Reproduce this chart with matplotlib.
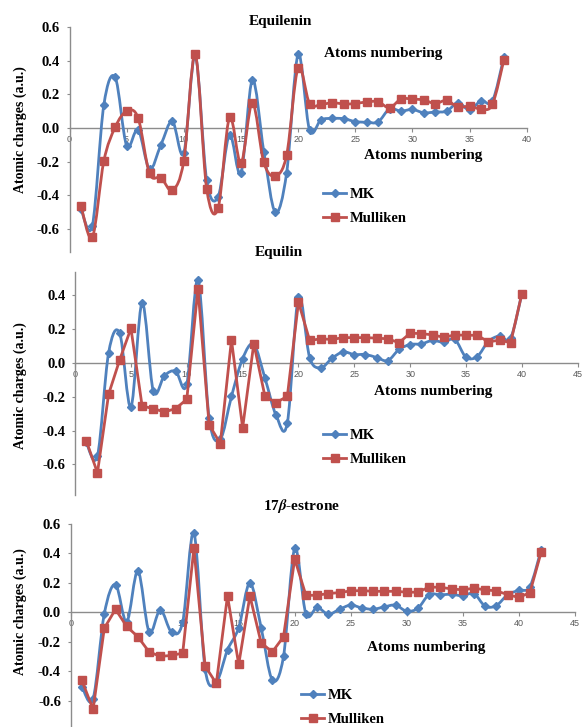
"""Atomic charges (MK vs Mulliken) for Equilenin, Equilin and 17b-estrone."""

import matplotlib
matplotlib.use("Agg")
import matplotlib.pyplot as plt
import numpy as np
from matplotlib.lines import Line2D
from matplotlib.patches import PathPatch
from matplotlib.path import Path

# Data (atom index starts at 1)
EQUILENIN_MK = [-0.48, -0.58, 0.135, 0.30, -0.105, -0.01, -0.245, -0.10, 0.04, -0.15,
                0.43, -0.31, -0.41, -0.04, -0.27, 0.285, -0.14, -0.50, -0.265, 0.437,
                -0.012, 0.048, 0.057, 0.055, 0.038, 0.034, 0.036, 0.113, 0.10, 0.11,
                0.09, 0.095, 0.10, 0.15, 0.107, 0.162, 0.16, 0.42]
EQUILENIN_MULLIKEN = [-0.463, -0.65, -0.198, 0.005, 0.10, 0.06, -0.27, -0.295, -0.37, -0.195,
                      0.437, -0.36, -0.477, 0.063, -0.21, 0.15, -0.205, -0.285, -0.16, 0.358,
                      0.145, 0.14, 0.15, 0.143, 0.145, 0.155, 0.156, 0.12, 0.172, 0.172,
                      0.166, 0.145, 0.164, 0.123, 0.13, 0.113, 0.14, 0.404]

EQUILIN_MK = [-0.47, -0.55, 0.06, 0.175, -0.26, 0.355, -0.165, -0.075, -0.048, -0.125,
              0.493, -0.325, -0.45, -0.198, 0.026, 0.11, -0.09, -0.31, -0.355, 0.39,
              0.032, -0.028, 0.028, 0.065, 0.05, 0.05, 0.032, 0.014, 0.08, 0.109,
              0.113, 0.133, 0.123, 0.139, 0.034, 0.038, 0.127, 0.16, 0.149, 0.41]
EQUILIN_MULLIKEN = [-0.46, -0.65, -0.185, 0.02, 0.205, -0.255, -0.27, -0.29, -0.27, -0.215,
                    0.44, -0.365, -0.477, 0.137, -0.384, 0.115, -0.198, -0.234, -0.198, 0.36,
                    0.133, 0.143, 0.139, 0.15, 0.15, 0.15, 0.147, 0.143, 0.12, 0.176,
                    0.174, 0.166, 0.152, 0.166, 0.164, 0.164, 0.125, 0.135, 0.12, 0.41]

ESTRONE_MK = [-0.505, -0.588, -0.011, 0.188, -0.066, 0.28, -0.134, 0.016, -0.134, -0.066,
              0.538, -0.385, -0.475, -0.256, -0.106, 0.199, -0.104, -0.46, -0.30, 0.434,
              -0.011, 0.032, -0.014, 0.02, 0.048, 0.029, 0.02, 0.036, 0.048, 0.007,
              0.027, 0.12, 0.118, 0.122, 0.111, 0.127, 0.041, 0.045, 0.118, 0.149,
              0.174, 0.423]
ESTRONE_MULLIKEN = [-0.464, -0.66, -0.109, 0.02, -0.097, -0.167, -0.27, -0.30, -0.294, -0.278,
                    0.434, -0.366, -0.484, 0.111, -0.355, 0.111, -0.208, -0.27, -0.167, 0.362,
                    0.115, 0.115, 0.127, 0.133, 0.145, 0.147, 0.142, 0.142, 0.142, 0.136,
                    0.136, 0.17, 0.17, 0.158, 0.152, 0.163, 0.152, 0.145, 0.12, 0.10,
                    0.133, 0.407]

TITLES = ["Equilenin", "Equilin", r"17$\beta$-estrone"]
XLABEL = "Atoms numbering"
YLABEL = "Atomic charges (a.u.)"
SERIES_NAMES = ["MK", "Mulliken"]

BLUE = "#4F81BD"
RED = "#C0504D"
AXIS_GREY = "#8C8C8C"

MK_MS = 4.0
MUL_MS = 5.5
LW = 2.0

W, H = 582, 727

plt.rcParams.update({
    "font.family": "Liberation Serif",
    "font.weight": "bold",
    "mathtext.fontset": "stix",
})


def px_box(left, top, right, bottom):
    return [left / W, 1 - bottom / H, (right - left) / W, (bottom - top) / H]


def smooth_path(x, y):
    # Excel-style smoothed line: cubic Bezier through each point
    pts = np.column_stack([x, y]).astype(float)
    n = len(pts)
    verts = [pts[0]]
    codes = [Path.MOVETO]
    for i in range(n - 1):
        p0 = pts[max(i - 1, 0)]
        p1 = pts[i]
        p2 = pts[i + 1]
        p3 = pts[min(i + 2, n - 1)]
        verts += [p1 + (p2 - p0) / 6, p2 - (p3 - p1) / 6, p2]
        codes += [Path.CURVE4] * 3
    return Path(verts, codes)


def draw_series(ax, y, color, marker, ms, smooth, z):
    x = np.arange(1, len(y) + 1)
    if smooth:
        ax.add_patch(PathPatch(smooth_path(x, y), fill=False, edgecolor=color,
                               lw=LW, zorder=z, capstyle="round", joinstyle="round"))
        ax.plot(x, y, ls="none", marker=marker, ms=ms, color=color, zorder=z + 0.5)
    else:
        ax.plot(x, y, "-", marker=marker, ms=ms, color=color, lw=LW, zorder=z)


def style_axes(ax, xmax, ylim, yticks):
    ax.set_xlim(0, xmax)
    ax.set_ylim(*ylim)
    for side in ("top", "right"):
        ax.spines[side].set_visible(False)
    ax.spines["bottom"].set_position(("data", 0))
    for side in ("left", "bottom"):
        ax.spines[side].set_color(AXIS_GREY)
        ax.spines[side].set_linewidth(1.0)
    ax.set_xticks(np.arange(0, xmax + 1, 5))
    ax.set_yticks(yticks)
    ax.set_yticklabels([f"{v:.1f}" for v in yticks])
    ax.tick_params(axis="x", direction="out", length=3, color=AXIS_GREY,
                   labelsize=6.5, labelcolor="#595959", pad=2)
    for lab in ax.get_xticklabels():
        lab.set_fontfamily("Liberation Sans")
        lab.set_fontweight("normal")
    ax.tick_params(axis="y", direction="out", length=2, color=AXIS_GREY,
                   labelsize=10.5, pad=5)
    ax.patch.set_visible(False)


fig = plt.figure(figsize=(W / 100, H / 100), dpi=100)

panels = [
    # series, box, xmax, ylim, yticks, smooth flags
    (EQUILENIN_MK, EQUILENIN_MULLIKEN, (69.5, 27, 526.7, 252.5), 40, (-0.74, 0.6),
     [0.6, 0.4, 0.2, 0.0, -0.2, -0.4, -0.6], (True, True)),
    (EQUILIN_MK, EQUILIN_MULLIKEN, (75.1, 271.7, 577.7, 494.8), 45, (-0.78, 0.54),
     [0.4, 0.2, 0.0, -0.2, -0.4, -0.6], (True, False)),
    (ESTRONE_MK, ESTRONE_MULLIKEN, (70.7, 523.9, 574.7, 727.0), 45, (-0.78, 0.6),
     [0.6, 0.4, 0.2, 0.0, -0.2, -0.4, -0.6], (True, False)),
]

title_pos = [(280, 22), (279, 252), (301, 506)]
xlabel_pos = [(423, 155), (433, 392), (426, 647)]
ylabel_pos = [(20, 130), (20, 386), (20, 612)]
legend_pos = [(323, 188), (323, 429), (301, 689)]

for k, (mk, mul, box, xmax, ylim, yticks, smooth) in enumerate(panels):
    ax = fig.add_axes(px_box(*box))
    style_axes(ax, xmax, ylim, yticks)
    draw_series(ax, mk, BLUE, "D", MK_MS, smooth[0], 3)
    draw_series(ax, mul, RED, "s", MUL_MS, smooth[1], 4)

    handles = [
        Line2D([], [], color=BLUE, lw=LW, marker="D", ms=MK_MS),
        Line2D([], [], color=RED, lw=LW, marker="s", ms=MUL_MS),
    ]
    lx, ly = legend_pos[k]
    fig.legend(handles, SERIES_NAMES, loc="upper left",
               bbox_to_anchor=(lx / W, 1 - ly / H), frameon=False,
               borderpad=0, borderaxespad=0, handlelength=1.6, handletextpad=0.2,
               labelspacing=0.7, prop={"size": 10.5, "weight": "bold"})

    tx, ty = title_pos[k]
    fig.text(tx / W, 1 - ty / H, TITLES[k], ha="center", va="center", fontsize=11)
    xx, xy = xlabel_pos[k]
    fig.text(xx / W, 1 - xy / H, XLABEL, ha="center", va="center", fontsize=11)
    yx, yy = ylabel_pos[k]
    fig.text(yx / W, 1 - yy / H, YLABEL, ha="center", va="center", rotation=90,
             fontsize=10)

# stray duplicate axis title at the top of the first panel
fig.text(383.5 / W, 1 - 53 / H, XLABEL, ha="center", va="center", fontsize=11)

fig.savefig("out.png", dpi=100)
